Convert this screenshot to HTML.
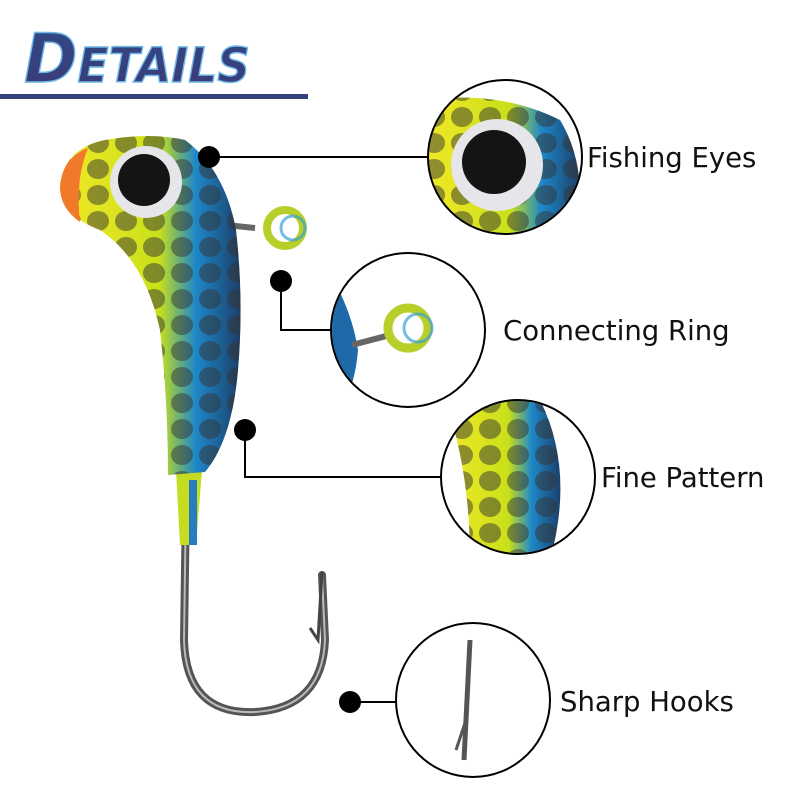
<!DOCTYPE html>
<html><head><style>
body{margin:0;background:#fff;}
svg text{font-family:"DejaVu Sans","Liberation Sans",sans-serif;}
</style></head><body>
<svg width="800" height="800" viewBox="0 0 800 800" xmlns="http://www.w3.org/2000/svg">
<defs>
<linearGradient id="tg" x1="0" y1="0" x2="0" y2="1"><stop offset="0" stop-color="#2f4a86"/><stop offset="1" stop-color="#3c3a78"/></linearGradient>
<linearGradient id="bg" x1="0" y1="0" x2="1" y2="0"><stop offset="0" stop-color="#f2e826"/><stop offset="0.55" stop-color="#c9e01a"/><stop offset="0.75" stop-color="#1e88c8"/><stop offset="1" stop-color="#1b3f6a"/></linearGradient>
<pattern id="sc" width="28" height="26" patternUnits="userSpaceOnUse"><ellipse cx="14" cy="13" rx="11" ry="10" fill="#333" opacity="0.5"/></pattern>
<clipPath id="c1"><circle cx="505" cy="157" r="76"/></clipPath>
<clipPath id="c2"><circle cx="408" cy="330" r="76"/></clipPath>
<clipPath id="c3"><circle cx="518" cy="477" r="76"/></clipPath>
<clipPath id="c4"><circle cx="473" cy="700" r="76"/></clipPath>
</defs>
<text x="24" y="82" font-family="Liberation Sans" font-weight="bold" font-style="italic" font-size="68" fill="url(#tg)" stroke="#6fb7e6" stroke-width="1.5" textLength="226" lengthAdjust="spacingAndGlyphs">D<tspan font-size="48">ETAILS</tspan></text>
<rect x="0" y="94" width="308" height="5" fill="#34427a"/>
<path d="M186 500 L184 640 Q186 715 255 712 Q322 708 325 640 L322 575" fill="none" stroke="#555" stroke-width="8" stroke-linecap="round"/>
<path d="M186 500 L184 640 Q186 715 255 712 Q322 708 325 640 L322 575" fill="none" stroke="#bbb" stroke-width="2"/>
<path d="M322 572 L318 640 L310 628" fill="none" stroke="#444" stroke-width="3"/>
<path d="M176 470 L202 470 L196 545 L180 545 Z" fill="#c5dc20"/>
<rect x="189" y="480" width="8" height="65" fill="#2a7cc0"/>
<path d="M226 225 L255 228" stroke="#666" stroke-width="6"/>
<circle cx="285" cy="228" r="18" fill="none" stroke="#b8cf2a" stroke-width="8"/>
<circle cx="293" cy="228" r="12" fill="none" stroke="#3a9ed6" stroke-width="3" opacity="0.7"/>
<path d="M60 185 Q65 148 105 140 Q150 132 185 140 Q225 170 236 230 Q244 300 238 370 Q232 440 205 472 L168 475 Q168 400 160 330 Q145 260 100 230 Q60 215 60 185 Z" fill="url(#bg)"/>
<path d="M60 185 Q65 148 105 140 Q150 132 185 140 Q225 170 236 230 Q244 300 238 370 Q232 440 205 472 L168 475 Q168 400 160 330 Q145 260 100 230 Q60 215 60 185 Z" fill="url(#sc)"/>
<path d="M60 187 Q62 158 88 148 Q75 180 80 222 Q60 208 60 187 Z" fill="#f07a2a"/>
<circle cx="146" cy="182" r="36" fill="#e6e6ea"/>
<circle cx="144" cy="180" r="26" fill="#141414"/>
<circle cx="209" cy="157" r="11" fill="#000"/>
<line x1="209" y1="157" x2="428" y2="157" stroke="#000" stroke-width="2"/>
<circle cx="281" cy="281" r="11" fill="#000"/>
<polyline points="281,281 281,330 332,330" fill="none" stroke="#000" stroke-width="2"/>
<circle cx="245" cy="430" r="11" fill="#000"/>
<polyline points="245,430 245,477 442,477" fill="none" stroke="#000" stroke-width="2"/>
<circle cx="350" cy="702" r="11" fill="#000"/>
<line x1="350" y1="702" x2="396" y2="702" stroke="#000" stroke-width="2"/>
<g clip-path="url(#c1)"><rect x="420" y="70" width="180" height="180" fill="#fff"/>
<path d="M425 100 Q500 90 560 120 Q590 170 575 240 L425 240 Z" fill="url(#bg)"/>
<path d="M425 100 Q500 90 560 120 Q590 170 575 240 L425 240 Z" fill="url(#sc)"/>
<circle cx="497" cy="165" r="46" fill="#e6e6ea"/><circle cx="494" cy="162" r="32" fill="#141414"/></g>
<circle cx="505" cy="157" r="77" fill="none" stroke="#000" stroke-width="2"/>
<g clip-path="url(#c2)"><rect x="320" y="240" width="180" height="180" fill="#fff"/>
<path d="M320 260 Q350 300 358 350 Q355 390 335 420 L320 420 Z" fill="#1e6aa8"/>
<path d="M352 345 L390 335" stroke="#666" stroke-width="6"/>
<circle cx="408" cy="328" r="20" fill="none" stroke="#b8cf2a" stroke-width="9"/>
<circle cx="418" cy="328" r="14" fill="none" stroke="#3a9ed6" stroke-width="3" opacity="0.7"/></g>
<circle cx="408" cy="330" r="77" fill="none" stroke="#000" stroke-width="2"/>
<g clip-path="url(#c3)"><rect x="430" y="390" width="180" height="180" fill="#fff"/>
<path d="M445 400 L540 400 Q575 470 550 560 L470 560 Q470 470 445 400 Z" fill="url(#bg)"/>
<path d="M445 400 L540 400 Q575 470 550 560 L470 560 Q470 470 445 400 Z" fill="url(#sc)"/></g>
<circle cx="518" cy="477" r="77" fill="none" stroke="#000" stroke-width="2"/>
<g clip-path="url(#c4)"><rect x="390" y="620" width="180" height="170" fill="#fff"/>
<path d="M470 640 L464 760" stroke="#555" stroke-width="5"/>
<path d="M466 720 L456 750" stroke="#555" stroke-width="3"/></g>
<circle cx="473" cy="700" r="77" fill="none" stroke="#000" stroke-width="2"/>
<text x="587" y="167" font-size="27.5" fill="#111">Fishing Eyes</text>
<text x="503" y="340" font-size="27.5" fill="#111">Connecting Ring</text>
<text x="601" y="487" font-size="27.5" fill="#111">Fine Pattern</text>
<text x="560" y="711" font-size="27.5" fill="#111">Sharp Hooks</text>
</svg>
</body></html>
